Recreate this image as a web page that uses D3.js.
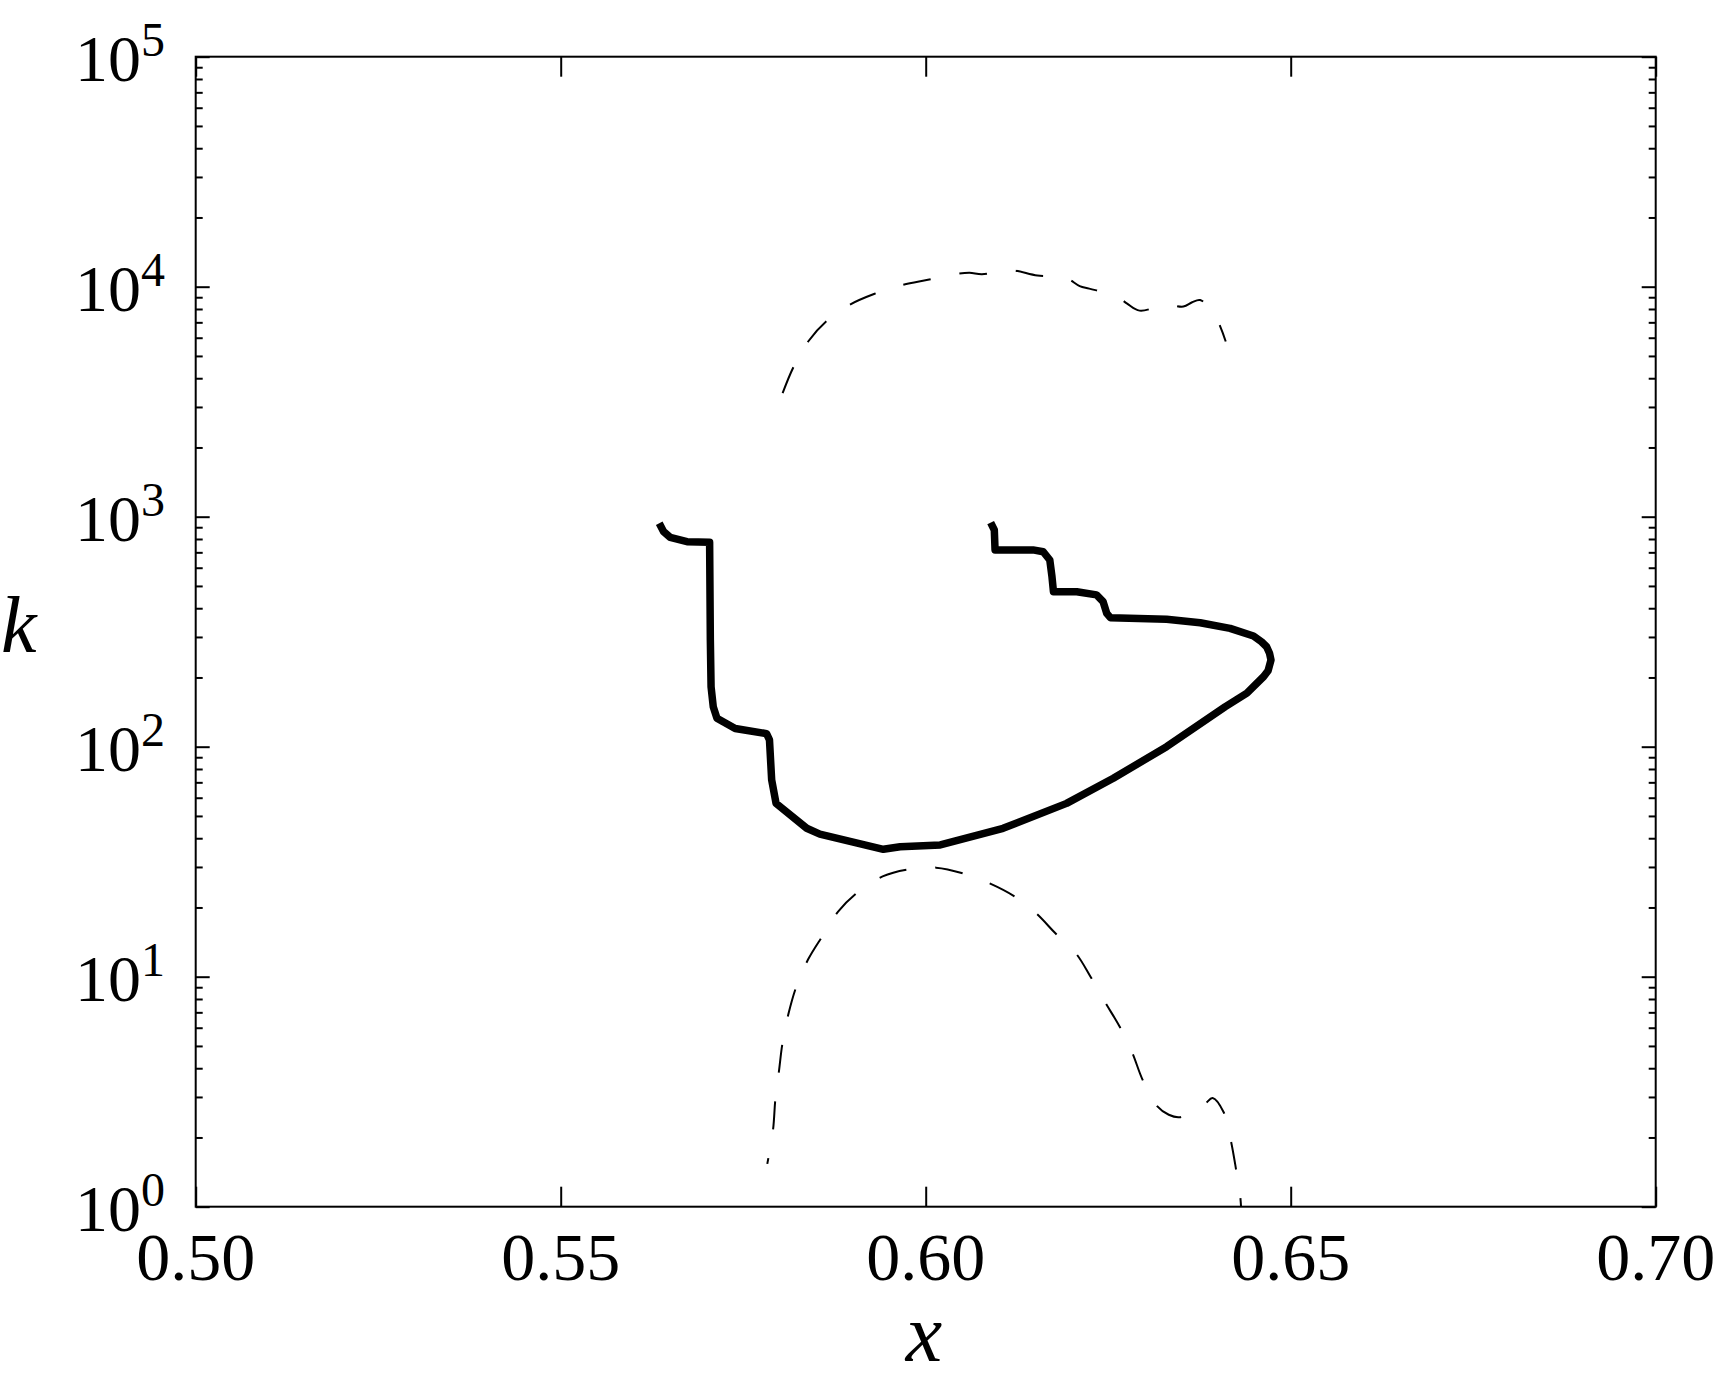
<!DOCTYPE html>
<html>
<head>
<meta charset="utf-8">
<script src="https://cdn.jsdelivr.net/npm/d3@7"></script>
<style>
  html, body { margin: 0; padding: 0; background: #fff; }
  svg { display: block; }
  text { font-family: "Liberation Serif", "Times New Roman", Times, serif; fill: #000; }
</style>
</head>
<body>
<svg id="chart" width="1714" height="1380"></svg>
<script>
// ---- data ----
const xTicks = [0.50, 0.55, 0.60, 0.65, 0.70];
const xTickLabels = ["0.50", "0.55", "0.60", "0.65", "0.70"];
const yTicks = [1, 10, 100, 1000, 10000, 100000];
const yTickExponents = ["0", "1", "2", "3", "4", "5"];

// solid curve (one continuous path)
const solidX = [0.5635, 0.5641, 0.5650, 0.5673, 0.5704, 0.5705, 0.5706, 0.5709, 0.5714, 0.5739,
  0.5782, 0.5786, 0.5789, 0.5795, 0.5837, 0.5855, 0.5942, 0.5965, 0.6020, 0.6106,
  0.6193, 0.6257, 0.6330, 0.6410, 0.6440, 0.6463, 0.6469, 0.6473, 0.6471, 0.6467, 0.6460,
  0.6449, 0.6417, 0.6376, 0.6330, 0.6253, 0.6248, 0.6243, 0.6234, 0.6207, 0.6175, 0.6173, 0.6170,
  0.6161, 0.6147, 0.6095, 0.6094, 0.6089];
const solidK = [936, 861, 813, 779, 775, 291, 182, 149, 133, 120,
  114, 107, 71.7, 56.7, 44.2, 41.7, 35.8, 36.7, 37.4, 44.2,
  56.7, 72.9, 100, 149, 171, 202, 214, 238, 255, 272, 286,
  303, 327, 346, 358, 364, 380, 427, 457, 472, 472, 548, 648,
  704, 717, 717, 875, 942];

// upper dashed curve
const upperX = [0.5804, 0.5819, 0.5839, 0.5864, 0.5896, 0.5930, 0.5967, 0.6003, 0.6040, 0.6060,
  0.6077, 0.6116, 0.6153, 0.6191, 0.6211, 0.6224, 0.6261, 0.6276, 0.6293, 0.6329,
  0.6353, 0.6365, 0.6376, 0.6396, 0.6411];
const upperK = [3445, 4484, 5778, 7080, 8350, 9315, 10160, 10720, 11330, 11490,
  11330, 11790, 11180, 10970, 10060, 9810, 9110, 8440, 7870, 8350,
  8200, 8560, 8750, 7520, 5780];

// lower dashed curve
const lowerX = [0.5783, 0.5791, 0.5794, 0.5799, 0.5804, 0.5812, 0.5823, 0.5839, 0.5859, 0.5880,
  0.5907, 0.5941, 0.5977, 0.6014, 0.6052, 0.6087, 0.6121, 0.6151, 0.6178, 0.6206,
  0.6226, 0.6246, 0.6266, 0.6283, 0.6297, 0.6316, 0.6333, 0.6348, 0.6382, 0.6393,
  0.6408, 0.6418, 0.6425, 0.6431, 0.6433];
const lowerK = [1.535, 2.18, 2.92, 3.89, 5.19, 6.90, 9.10, 11.9, 15.1, 19.2,
  23.3, 27.3, 29.3, 29.8, 28.1, 25.5, 22.4, 18.9, 15.4, 12.6,
  9.97, 7.72, 6.04, 4.67, 3.57, 2.76, 2.51, 2.45, 2.79, 2.97,
  2.58, 1.94, 1.46, 1.10, 0.83];

// ---- layout ----
const plotL = 195.7, plotR = 1655.7, plotT = 56.7, plotB = 1206.7;
const svg = d3.select("#chart");

const x = d3.scaleLinear().domain([0.5, 0.7]).range([plotL, plotR]);
const y = d3.scaleLog().domain([1, 1e5]).range([plotB, plotT]);

svg.append("defs").append("clipPath").attr("id", "clip")
  .append("rect").attr("x", plotL).attr("y", plotT)
  .attr("width", plotR - plotL).attr("height", plotB - plotT);

// ---- curves ----
const lineLin = d3.line().x(d => x(d[0])).y(d => y(d[1]));
const lineSmooth = d3.line().x(d => x(d[0])).y(d => y(d[1])).curve(d3.curveCatmullRom.alpha(0.5));
const zipped = (a, b) => a.map((v, i) => [v, b[i]]);

const g = svg.append("g").attr("clip-path", "url(#clip)");

g.append("path").datum(zipped(upperX, upperK))
  .attr("d", lineSmooth).attr("fill", "none").attr("stroke", "#000")
  .attr("stroke-width", 2).attr("stroke-dasharray", "28,29");

g.append("path").datum(zipped(lowerX, lowerK))
  .attr("d", lineSmooth).attr("fill", "none").attr("stroke", "#000")
  .attr("stroke-width", 2).attr("stroke-dasharray", "28,29")
  .attr("stroke-dashoffset", 22);

g.append("path").datum(zipped(solidX, solidK))
  .attr("d", lineLin).attr("fill", "none").attr("stroke", "#000")
  .attr("stroke-width", 7.5).attr("stroke-linejoin", "round");

// ---- axes (box with inward ticks) ----
const axG = svg.append("g");
axG.append("g").attr("transform", `translate(0,${plotB})`)
  .call(d3.axisBottom(x).tickValues(xTicks).tickSizeInner(-20).tickSizeOuter(0).tickFormat(""));
axG.append("g").attr("transform", `translate(0,${plotT})`)
  .call(d3.axisTop(x).tickValues(xTicks).tickSizeInner(-20).tickSizeOuter(0).tickFormat(""));

const minorY = [];
for (let e = 0; e < 5; e++) for (let m = 2; m <= 9; m++) minorY.push(m * Math.pow(10, e));
axG.append("g").attr("transform", `translate(${plotL},0)`)
  .call(d3.axisLeft(y).tickValues(yTicks).tickSizeInner(-14).tickSizeOuter(0).tickFormat(""));
axG.append("g").attr("transform", `translate(${plotL},0)`)
  .call(d3.axisLeft(y).tickValues(minorY).tickSizeInner(-7).tickSizeOuter(0).tickFormat(""));
axG.append("g").attr("transform", `translate(${plotR},0)`)
  .call(d3.axisRight(y).tickValues(yTicks).tickSizeInner(-14).tickSizeOuter(0).tickFormat(""));
axG.append("g").attr("transform", `translate(${plotR},0)`)
  .call(d3.axisRight(y).tickValues(minorY).tickSizeInner(-7).tickSizeOuter(0).tickFormat(""));

axG.selectAll(".domain").remove();
axG.selectAll(".tick line").attr("stroke", "#000").attr("stroke-width", 2);

svg.append("rect").attr("x", plotL).attr("y", plotT)
  .attr("width", plotR - plotL).attr("height", plotB - plotT)
  .attr("fill", "none").attr("stroke", "#000").attr("stroke-width", 2);

// ---- tick labels ----
svg.append("g").selectAll("text").data(xTicks).join("text")
  .attr("x", d => x(d)).attr("y", 1280)
  .attr("text-anchor", "middle").attr("font-size", 68)
  .text((d, i) => xTickLabels[i]);

const yl = svg.append("g").selectAll("text").data(yTicks).join("text")
  .attr("x", 165).attr("y", d => y(d) + 24)
  .attr("text-anchor", "end").attr("font-size", 66);
yl.append("tspan").text("10");
yl.append("tspan").attr("dy", -25).attr("font-size", 48).text((d, i) => yTickExponents[i]);

// ---- axis labels ----
svg.append("text").attr("x", 924).attr("y", 1361)
  .attr("text-anchor", "middle").attr("font-size", 82).attr("font-style", "italic").text("x");
svg.append("text").attr("x", 1).attr("y", 652)
  .attr("text-anchor", "start").attr("font-size", 80).attr("font-style", "italic").text("k");
</script>
</body>
</html>
